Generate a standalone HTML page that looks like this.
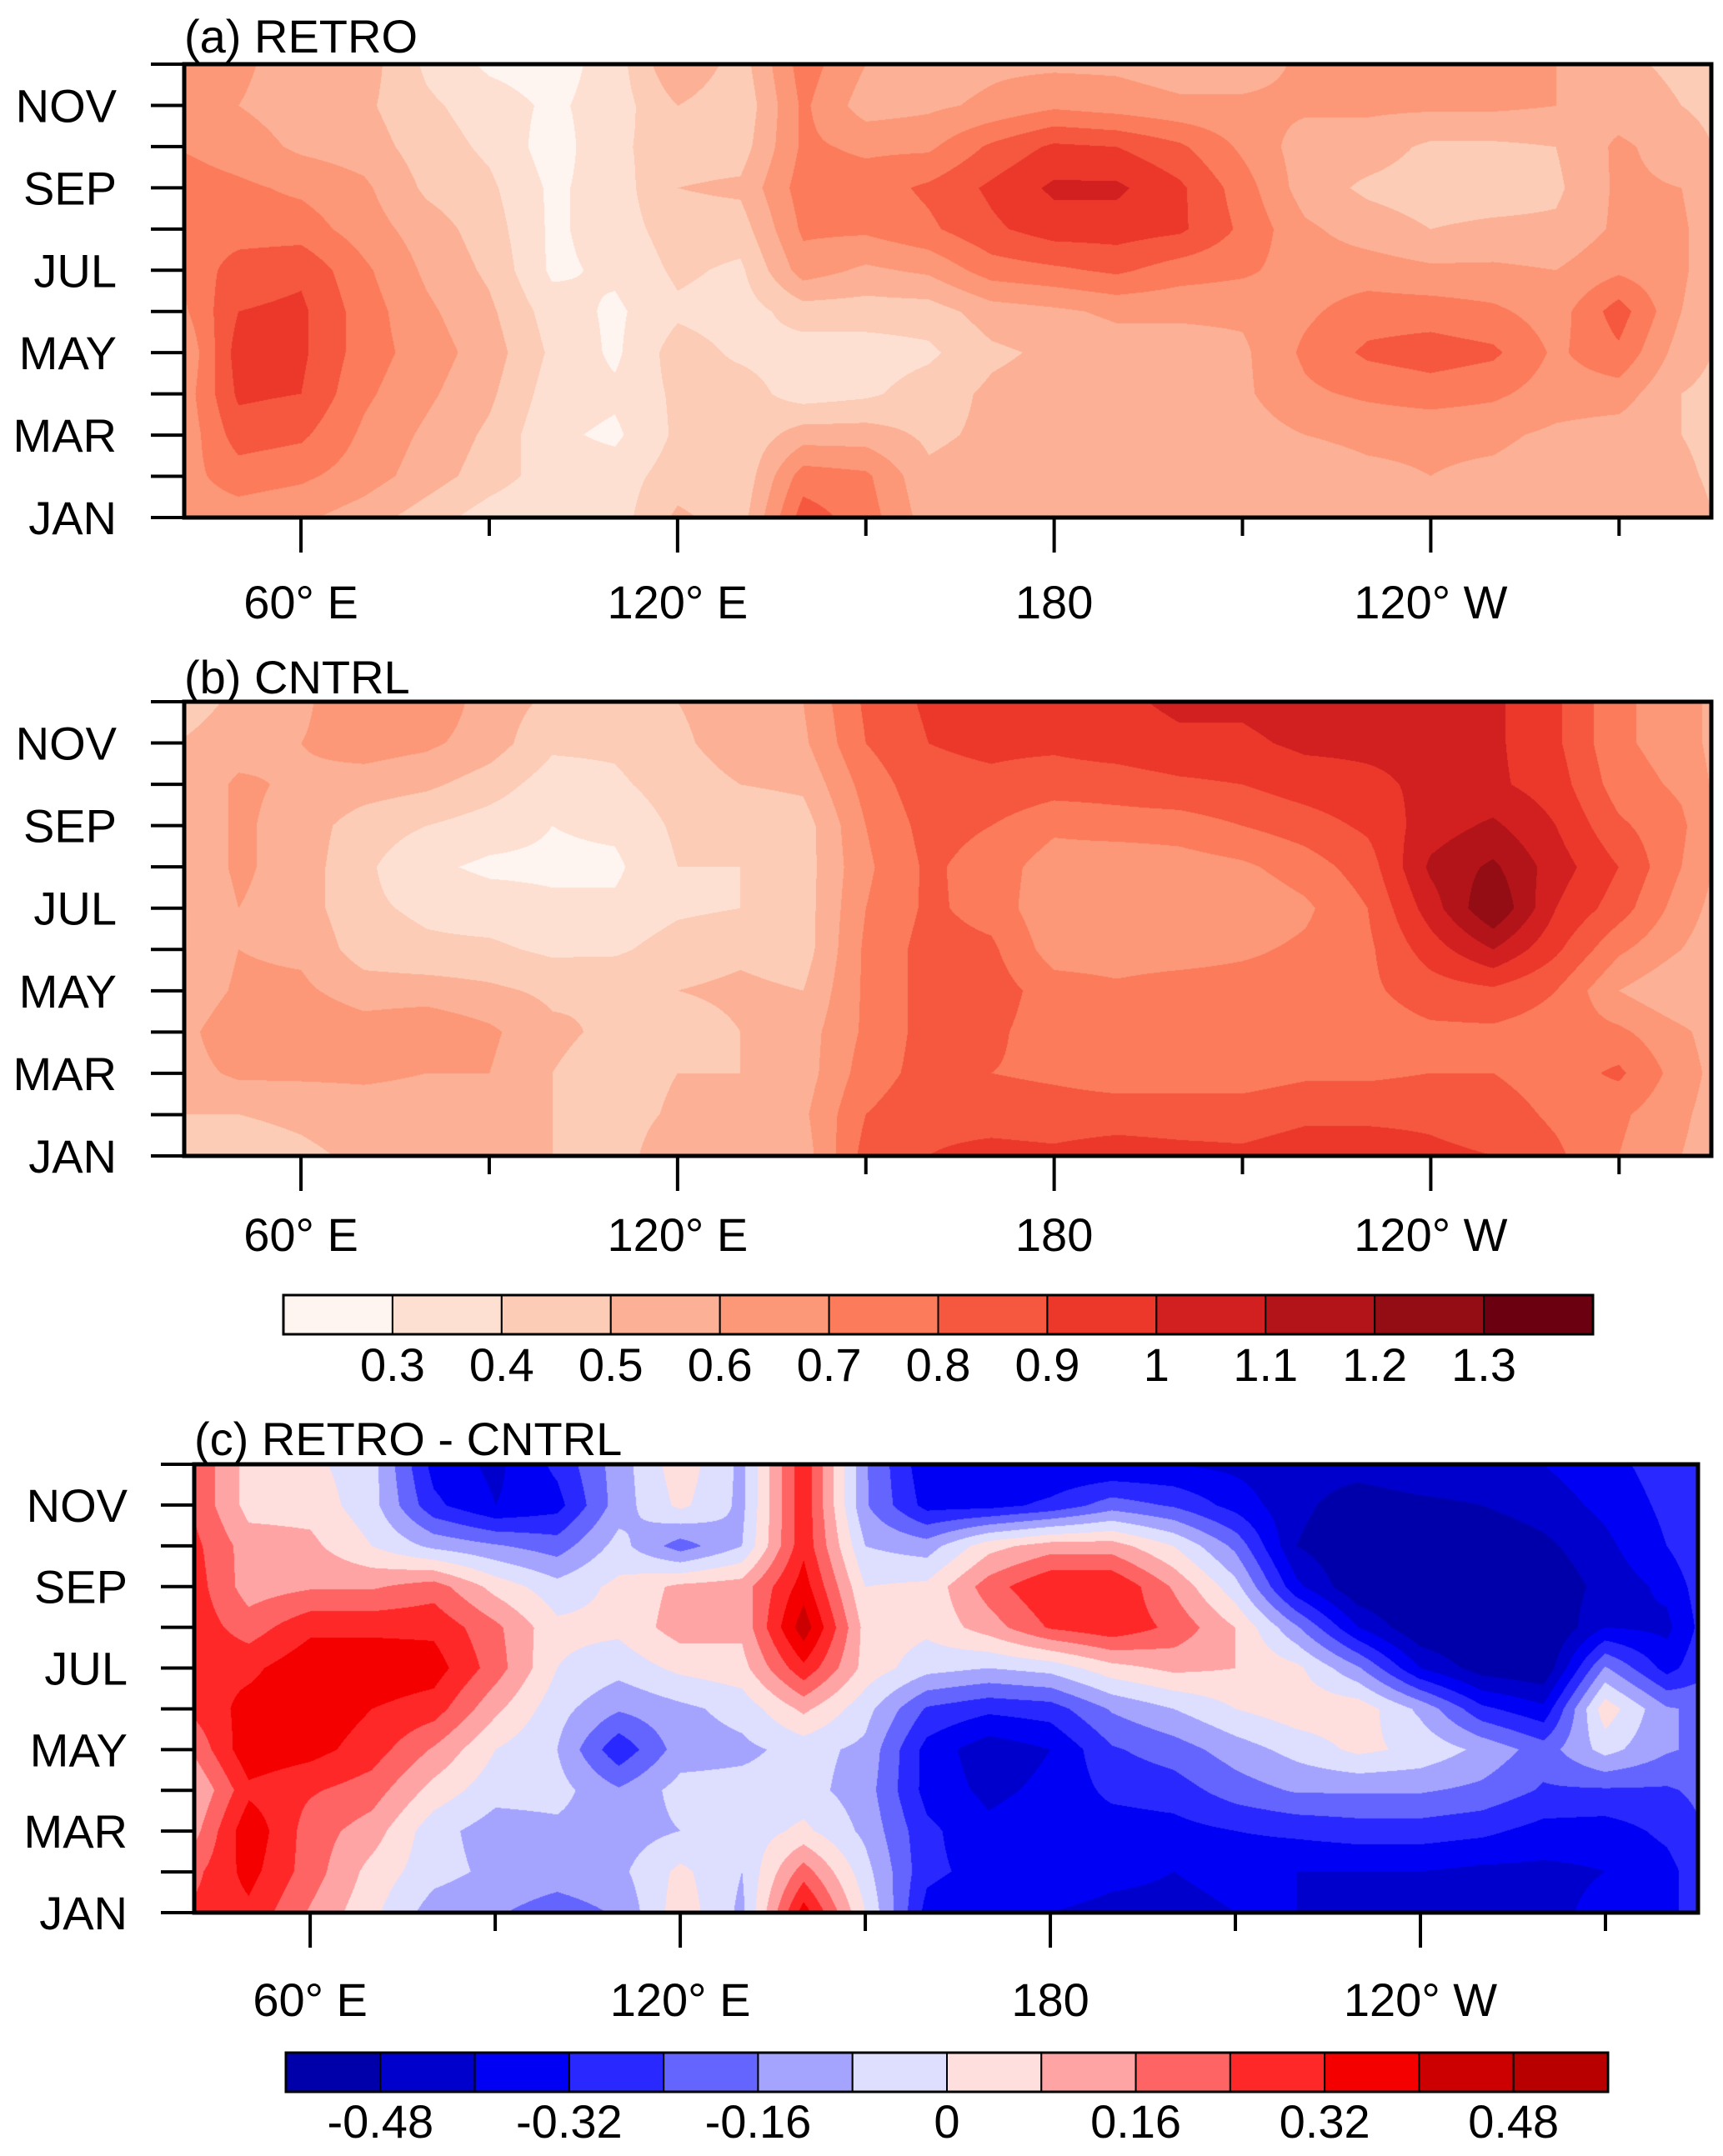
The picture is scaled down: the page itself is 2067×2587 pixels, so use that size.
<!DOCTYPE html>
<html><head><meta charset="utf-8">
<style>
html,body{margin:0;padding:0;background:#fff;}
body{width:2067px;height:2587px;position:relative;overflow:hidden;font-family:"Liberation Sans",sans-serif;}
canvas{position:absolute;}
svg{position:absolute;left:0;top:0;}
text{font-family:"Liberation Sans",sans-serif;font-size:56px;fill:#000;}
</style></head>
<body>
<canvas id="cA"></canvas>
<canvas id="cB"></canvas>
<canvas id="cC"></canvas>
<svg id="ov" width="2067" height="2587"></svg>
<script>
// ---- data ----
const lons = [40,50,60,70,80,90,100,110,120,130,140,150,160,170,180,190,200,210,220,230,240,250,260,270,280,290];
const monthLabels = ["JAN","MAR","MAY","JUL","SEP","NOV"];
const lonTicks = [60,120,180,240];
const lonTickLabels = ["60° E","120° E","180","120° W"];
const lonMinorTicks = [90,150,210,270];
const levelsA = [0.3,0.4,0.5,0.6,0.7,0.8,0.9,1.0,1.1,1.2,1.3];
const levelLabelsA = ["0.3","0.4","0.5","0.6","0.7","0.8","0.9","1","1.1","1.2","1.3"];
const colorsA = ["#fff5f0","#fee0d2","#fcccb6","#fcb095","#fc9777","#fb7b5b","#f5573f","#eb382b","#d21f20","#b31419","#940c14","#6b0010"];
const levelsC = [-0.48,-0.40,-0.32,-0.24,-0.16,-0.08,0,0.08,0.16,0.24,0.32,0.40,0.48];
const levelLabelsC = ["-0.48","","-0.32","","-0.16","","0","","0.16","","0.32","","0.48"];
const colorsC = ["#0000aa","#0000cc","#0000f5","#2828ff","#6464ff","#a4a4ff","#dedeff","#ffdede","#ffa4a4","#ff6464","#ff2828","#f50000","#cc0000","#b80000"];
// fields: one row per longitude, Jan..Dec
const fieldA = [
[.65,.65,.6,.6,.55,.65,.7,.75,.75,.7,.6,.6],
[.65,.75,.85,.92,.95,.9,.85,.75,.72,.65,.6,.62],
[.62,.72,.82,.9,.92,.92,.88,.75,.68,.58,.55,.55],
[.55,.65,.68,.72,.75,.75,.72,.65,.62,.55,.52,.55],
[.45,.55,.58,.62,.65,.62,.58,.55,.48,.45,.42,.38],
[.35,.45,.48,.52,.55,.52,.48,.45,.42,.38,.35,.28],
[.3,.35,.32,.35,.38,.35,.28,.28,.28,.25,.28,.25],
[.35,.35,.28,.32,.28,.28,.32,.35,.35,.38,.35,.35],
[.52,.45,.42,.42,.45,.38,.42,.45,.5,.45,.5,.6],
[.45,.42,.42,.45,.38,.35,.38,.45,.52,.45,.42,.45],
[.85,.75,.55,.35,.35,.45,.65,.72,.75,.72,.72,.75],
[.75,.72,.55,.38,.35,.45,.58,.72,.75,.68,.55,.6],
[.55,.52,.48,.45,.38,.45,.62,.78,.82,.68,.58,.55],
[.55,.55,.52,.52,.48,.55,.75,.88,.92,.82,.62,.58],
[.55,.55,.55,.55,.52,.58,.78,.95,1.02,.92,.68,.58],
[.55,.55,.55,.55,.55,.62,.82,.95,1.02,.9,.65,.58],
[.55,.55,.55,.55,.55,.62,.75,.92,.92,.82,.62,.55],
[.55,.55,.55,.58,.58,.62,.72,.78,.75,.68,.62,.55],
[.55,.55,.6,.68,.72,.68,.65,.62,.55,.55,.62,.62],
[.55,.58,.62,.72,.82,.75,.65,.55,.48,.55,.62,.65],
[.58,.6,.62,.75,.85,.75,.62,.5,.45,.48,.62,.68],
[.55,.58,.62,.72,.82,.72,.62,.52,.45,.48,.62,.62],
[.5,.55,.58,.65,.68,.65,.6,.52,.48,.5,.6,.6],
[.55,.55,.55,.65,.78,.85,.68,.62,.62,.62,.55,.52],
[.55,.52,.5,.5,.55,.6,.62,.62,.6,.55,.5,.48],
[.45,.45,.45,.45,.45,.45,.45,.45,.45,.45,.45,.45]];
const fieldB = [
[.45,.5,.55,.55,.5,.48,.48,.5,.5,.5,.5,.45],
[.45,.5,.62,.68,.62,.6,.6,.62,.62,.62,.55,.52],
[.48,.52,.62,.68,.62,.58,.55,.55,.55,.58,.6,.58],
[.52,.55,.62,.65,.55,.45,.42,.42,.45,.55,.65,.68],
[.55,.55,.6,.68,.55,.42,.38,.32,.4,.52,.62,.68],
[.55,.55,.6,.62,.52,.42,.35,.28,.35,.45,.55,.55],
[.5,.5,.5,.52,.48,.38,.32,.28,.3,.35,.42,.48],
[.45,.45,.45,.48,.5,.38,.32,.28,.32,.38,.42,.45],
[.58,.52,.5,.45,.5,.45,.38,.4,.42,.45,.48,.5],
[.5,.5,.5,.5,.52,.48,.4,.4,.42,.5,.55,.55],
[.55,.58,.55,.55,.5,.45,.45,.45,.45,.52,.58,.6],
[.84,.8,.75,.72,.72,.72,.7,.68,.7,.74,.8,.82],
[.9,.87,.84,.84,.84,.84,.82,.82,.84,.87,.9,.92],
[.93,.86,.8,.82,.85,.82,.76,.75,.8,.88,.92,.95],
[.92,.85,.78,.75,.75,.65,.62,.65,.72,.85,.92,.95],
[.95,.85,.75,.75,.72,.65,.62,.62,.75,.85,.95,.98],
[.93,.85,.75,.75,.75,.65,.62,.65,.75,.88,.98,1.02],
[.92,.85,.75,.75,.75,.68,.62,.68,.8,.9,.98,1.02],
[.95,.88,.78,.75,.75,.72,.68,.75,.85,.95,1.02,1.05],
[.95,.88,.78,.75,.78,.78,.8,.85,.92,.98,1.02,1.05],
[.92,.88,.8,.78,.85,.95,1.05,1.12,1.05,1.02,1.02,1.02],
[.9,.85,.8,.78,.88,1.1,1.3,1.22,1.12,1.02,1.02,1.02],
[.82,.78,.75,.75,.8,.92,1.0,1.05,1.0,.95,.92,.92],
[.7,.72,.82,.72,.6,.72,.85,.9,.82,.75,.72,.72],
[.6,.62,.65,.62,.5,.6,.65,.7,.72,.68,.65,.65],
[.5,.5,.5,.5,.5,.5,.5,.5,.5,.5,.5,.5]];
const fieldC = [
[.25,.2,.1,.05,.15,.25,.3,.3,.3,.28,.25,.25],
[.3,.35,.38,.3,.38,.35,.3,.2,.12,.12,.05,.05],
[.15,.2,.2,.25,.35,.38,.38,.3,.15,.1,.05,.02],
[.02,.05,.12,.2,.28,.32,.38,.3,.15,0,-.05,-.05],
[-.12,-.05,-.05,.05,.15,.28,.36,.3,.2,-.1,-.3,-.35],
[-.15,-.1,-.12,-.05,0,.1,.2,.18,.05,-.15,-.4,-.42],
[-.2,-.12,-.1,-.05,-.08,-.05,0,.02,-.05,-.2,-.35,-.3],
[-.15,-.1,-.12,-.15,-.3,-.15,-.05,.02,.02,-.05,-.12,-.12],
[.05,.02,-.08,-.05,-.12,-.1,.02,.12,.1,-.2,.02,.05],
[-.1,-.08,-.05,-.05,-.1,-.05,.05,.1,.12,-.08,-.1,-.1],
[.36,.2,.02,-.05,-.05,.1,.3,.45,.36,.3,.3,.3],
[0,-.05,-.1,-.12,-.1,-.05,.05,.05,0,-.08,-.15,-.15],
[-.35,-.3,-.3,-.35,-.35,-.25,-.05,.02,.02,-.12,-.35,-.38],
[-.4,-.35,-.38,-.42,-.45,-.3,-.08,.12,.2,.05,-.35,-.4],
[-.4,-.35,-.35,-.38,-.4,-.28,-.05,.25,.32,.12,-.3,-.4],
[-.42,-.38,-.36,-.3,-.25,-.15,.05,.3,.32,.12,-.2,-.4],
[-.42,-.4,-.35,-.28,-.2,-.08,.1,.22,.15,0,-.25,-.4],
[-.4,-.38,-.32,-.2,-.12,0,.08,.08,-.05,-.18,-.35,-.42],
[-.4,-.4,-.3,-.15,-.05,.05,.02,-.15,-.38,-.48,-.46,-.45],
[-.42,-.4,-.28,-.15,.02,.05,-.15,-.4,-.55,-.56,-.52,-.45],
[-.45,-.4,-.28,-.15,-.02,-.1,-.4,-.55,-.58,-.57,-.5,-.42],
[-.45,-.42,-.3,-.18,-.1,-.3,-.52,-.58,-.58,-.55,-.48,-.42],
[-.42,-.42,-.35,-.25,-.2,-.38,-.55,-.58,-.55,-.5,-.44,-.4],
[-.38,-.4,-.36,-.25,-.05,.05,-.15,-.4,-.45,-.42,-.38,-.35],
[-.35,-.35,-.3,-.25,-.15,-.15,-.35,-.42,-.38,-.32,-.3,-.28],
[-.2,-.2,-.2,-.2,-.2,-.2,-.2,-.2,-.2,-.2,-.2,-.2]];

// ---- geometry ----
const panels = [
 {id:'cA',key:'a',title:'(a) RETRO',field:fieldA,levels:levelsA,colors:colorsA,x0:221,x1:2053,y0:77,y1:621,lonL:41.4,lonR:284.7,labY:722,titleY:43,ylabX:140},
 {id:'cB',key:'b',title:'(b) CNTRL',field:fieldB,levels:levelsA,colors:colorsA,x0:221,x1:2053,y0:842,y1:1387,lonL:41.4,lonR:284.7,labY:1481,titleY:812,ylabX:140},
 {id:'cC',key:'c',title:'(c) RETRO - CNTRL',field:fieldC,levels:levelsC,colors:colorsC,x0:233,x1:2037,y0:1757,y1:2295,lonL:41.2,lonR:285.0,labY:2399,titleY:1726,ylabX:153}
];
const NS='http://www.w3.org/2000/svg';
const ov=document.getElementById('ov');
function mk(tag,attrs,parent){const e=document.createElementNS(NS,tag);for(const k in attrs)e.setAttribute(k,attrs[k]);(parent||ov).appendChild(e);return e;}
function hex(c){return [parseInt(c.slice(1,3),16),parseInt(c.slice(3,5),16),parseInt(c.slice(5,7),16)];}
function sample(f,lon,m){
  let fi=(lon-lons[0])/(lons[1]-lons[0]); fi=Math.max(0,Math.min(lons.length-1.0001,fi));
  let mi=Math.max(0,Math.min(10.9999,m));
  const i=Math.floor(fi),j=Math.floor(mi),a=fi-i,b=mi-j;
  return (f[i][j]*(1-a)+f[i+1][j]*a)*(1-b)+(f[i][j+1]*(1-a)+f[i+1][j+1]*a)*b;
}
function levelIndex(levels,v){let k=0;while(k<levels.length&&v>=levels[k])k++;return k;}

panels.forEach(p=>{
  const W=p.x1-p.x0,H=p.y1-p.y0;
  const cv=document.getElementById(p.id);
  cv.width=W;cv.height=H;cv.style.left=p.x0+'px';cv.style.top=p.y0+'px';
  const ctx=cv.getContext('2d');const img=ctx.createImageData(W,H);
  const rgb=p.colors.map(hex);
  for(let y=0;y<H;y++){
    const m=11*(1-y/(H-1));
    for(let x=0;x<W;x++){
      const lon=p.lonL+(p.lonR-p.lonL)*x/(W-1);
      const c=rgb[levelIndex(p.levels,sample(p.field,lon,m))];
      const o=(y*W+x)*4;img.data[o]=c[0];img.data[o+1]=c[1];img.data[o+2]=c[2];img.data[o+3]=255;
    }
  }
  ctx.putImageData(img,0,0);
  const xs=lon=>p.x0+(lon-p.lonL)/(p.lonR-p.lonL)*(p.x1-p.x0);
  const ys=mo=>p.y1-mo/11*(p.y1-p.y0);
  const g=mk('g',{});
  
  
  const fr=mk('rect',{x:p.x0,y:p.y0,width:p.x1-p.x0,height:p.y1-p.y0,fill:'none',stroke:'#000','stroke-width':5},g);
  
  
  for(let mo=0;mo<=11;mo++){
    const t=mk('line',{x1:p.x0-40,x2:p.x0,y1:ys(mo),y2:ys(mo),stroke:'#000','stroke-width':4},g);
    
    
  }
  monthLabels.forEach((lab,i)=>{
    const t=mk('text',{x:p.ylabX,y:ys(i*2)+20,'text-anchor':'end'},g);t.textContent=lab;
    
    
  });
  lonTicks.forEach((lon,i)=>{
    const t=mk('line',{x1:xs(lon),x2:xs(lon),y1:p.y1,y2:p.y1+42,stroke:'#000','stroke-width':4},g);
    
    
    const l=mk('text',{x:xs(lon),y:p.labY+20,'text-anchor':'middle'},g);l.textContent=lonTickLabels[i];
    
    
  });
  lonMinorTicks.forEach(lon=>{
    const t=mk('line',{x1:xs(lon),x2:xs(lon),y1:p.y1,y2:p.y1+22,stroke:'#000','stroke-width':4},g);
    
    
  });
  const tt=mk('text',{x:p.x0,y:p.titleY+20},g);tt.textContent=p.title;
  
  
});

function colorbar(key,colors,labels,x0,x1,y0,y1,labY){
  const g=mk('g',{});
  
  
  const n=colors.length,w=(x1-x0)/n;
  colors.forEach((c,i)=>{
    const r=mk('rect',{x:x0+i*w,y:y0,width:w,height:y1-y0,fill:c,stroke:'#000','stroke-width':2},g);
    
    
  });
  mk('rect',{x:x0,y:y0,width:x1-x0,height:y1-y0,fill:'none',stroke:'#000','stroke-width':3},g);
  labels.forEach((lab,i)=>{
    if(!lab)return;
    const t=mk('text',{x:x0+(i+1)*w,y:labY+20,'text-anchor':'middle'},g);t.textContent=lab;
    
    
  });
}
colorbar('abs',colorsA,levelLabelsA,340,1911,1554,1601,1637);
colorbar('diff',colorsC,levelLabelsC,343,1929,2463,2510,2545);
</script>
</body></html>
